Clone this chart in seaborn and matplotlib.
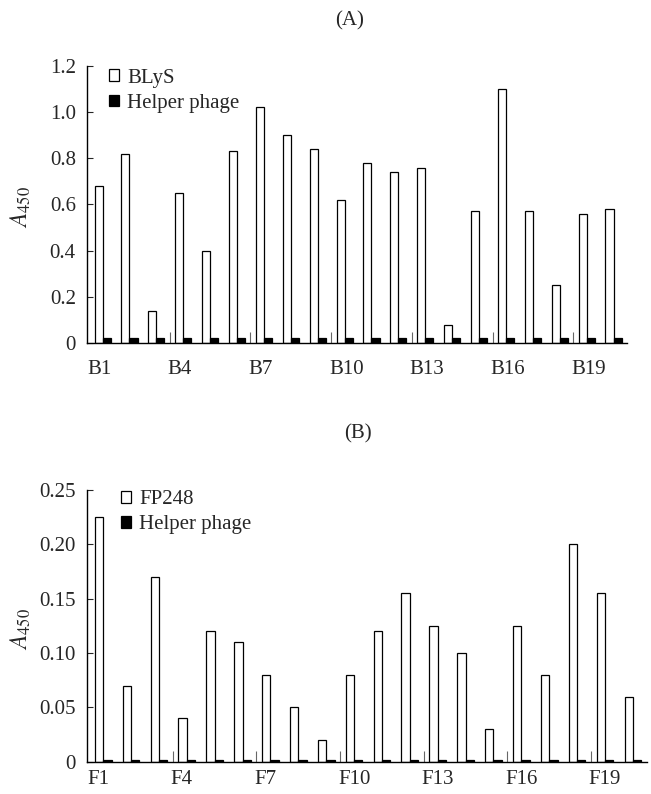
import numpy as np
import pandas as pd
import matplotlib.pyplot as plt
import seaborn as sns
from matplotlib.ticker import FixedLocator

sns.set_style("ticks")
plt.rcParams["font.family"] = ["Liberation Serif", "DejaVu Serif"]
plt.rcParams["mathtext.fontset"] = "stix"

# panel A: BLyS clones
b_clones = [f"B{i}" for i in range(1, 21)]
b_target = [0.68, 0.82, 0.14, 0.65, 0.40, 0.83, 1.02, 0.90, 0.84, 0.62,
            0.78, 0.74, 0.76, 0.08, 0.57, 1.10, 0.57, 0.25, 0.56, 0.58]
b_helper = [0.02] * 20

# panel B: FP248 clones
f_clones = [f"F{i}" for i in range(1, 21)]
f_target = [0.225, 0.070, 0.170, 0.040, 0.120, 0.110, 0.080, 0.050, 0.020, 0.080,
            0.120, 0.155, 0.125, 0.100, 0.030, 0.125, 0.080, 0.200, 0.155, 0.060]
f_helper = [0.002] * 20

b_yticks = [0, 0.2, 0.4, 0.6, 0.8, 1.0, 1.2]
b_ylabels = ["0", "0.2", "0.4", "0.6", "0.8", "1.0", "1.2"]
f_yticks = [0, 0.05, 0.10, 0.15, 0.20, 0.25]
f_ylabels = ["0", "0.05", "0.10", "0.15", "0.20", "0.25"]

FS = 15


def panel(ax, clones, target, helper, target_name, yticks, ylabels,
          leg_x, leg_y, xpad):
    df = pd.DataFrame({
        "clone": clones * 2,
        "A450": target + helper,
        "sample": [target_name] * len(clones) + ["Helper phage"] * len(clones),
    })
    sns.barplot(data=df, x="clone", y="A450", hue="sample", order=clones,
                hue_order=[target_name, "Helper phage"],
                palette=["white", "black"], edgecolor="black", linewidth=0.9,
                width=0.6, errorbar=None, ax=ax)
    n = len(clones)
    ax.set_xlim(-0.5, n - 0.5)
    ax.set_ylim(yticks[0], yticks[-1])
    ax.set_yticks(yticks)
    ax.set_yticklabels(ylabels, fontsize=FS)
    ax.tick_params(axis="y", direction="in", length=4, width=0.8, pad=8)
    # labels every third clone, left-aligned at the group's left edge
    ax.set_xticks(np.arange(0, n, 3) - 0.58)
    ax.set_xticklabels(clones[::3], fontsize=FS, ha="left")
    ax.tick_params(axis="x", which="major", length=0, pad=xpad)
    ax.xaxis.set_minor_locator(FixedLocator(np.arange(2.5, n - 1, 3)))
    ax.tick_params(axis="x", which="minor", direction="in", length=8,
                   width=0.8, color="0.4")
    ax.set_xlabel("")
    ax.set_ylabel("$A_{450}$", fontsize=FS + 2)
    sns.despine(ax=ax)
    for s in ["left", "bottom"]:
        ax.spines[s].set_linewidth(1.0)
        ax.spines[s].set_color("black")
    ax.legend(loc="upper left", bbox_to_anchor=(leg_x, leg_y),
              frameon=False, fontsize=FS, handlelength=0.5,
              handleheight=0.5, handletextpad=0.4, labelspacing=0.3,
              borderpad=0, borderaxespad=0)


fig = plt.figure(figsize=(6.51, 7.94), dpi=100)
ax1 = fig.add_axes([0.1336, 0.568, 0.8295, 0.349])
ax2 = fig.add_axes([0.1336, 0.0407, 0.860, 0.342])

panel(ax1, b_clones, b_target, b_helper, "BLyS", b_yticks, b_ylabels,
      0.04, 0.99, 12)
panel(ax2, f_clones, f_target, f_helper, "FP248", f_yticks, f_ylabels,
      0.06, 1.0, 6)

ax1.yaxis.set_label_coords(-0.1, 0.49)
ax2.yaxis.set_label_coords(-0.096, 0.49)

fig.text(0.5376, 0.9736, "(A)", ha="center", va="center", fontsize=FS)
fig.text(0.55, 0.4534, "(B)", ha="center", va="center", fontsize=FS)

fig.savefig("out.png", dpi=100)
